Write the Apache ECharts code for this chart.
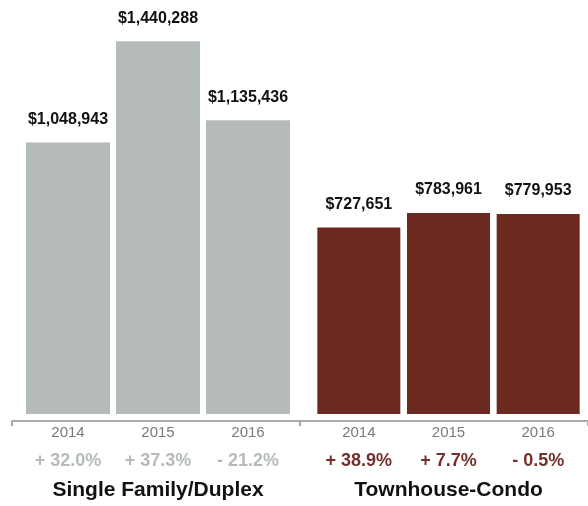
<!DOCTYPE html>
<html><head><meta charset="utf-8">
<script src="https://cdn.jsdelivr.net/npm/echarts@6/dist/echarts.min.js"></script>
<style>html,body{margin:0;padding:0;background:#fff}#c{width:588px;height:506px}</style>
</head><body><div id="c"></div>
<script>
const years = ['2014', '2015', '2016'];
const groupNames = ['Single Family/Duplex', 'Townhouse-Condo'];
const singleFamily = [1048943, 1440288, 1135436];
const townhouse = [727651, 783961, 779953];
const singleFamilyChange = ['+ 32.0%', '+ 37.3%', '- 21.2%'];
const townhouseChange = ['+ 38.9%', '+ 7.7%', '- 0.5%'];

const GRAY = '#b5bbbb';
const RED = '#6b2920';
const FONT = '"Liberation Sans", Arial, Helvetica, sans-serif';

function money(v) { return '$' + v.toLocaleString('en-US'); }

function catAxis(grid, changes, pctColor, name) {
  return {
    type: 'category', gridIndex: grid, data: years,
    axisLine: { show: false }, axisTick: { show: false },
    axisLabel: {
      margin: 10,
      formatter: (v, i) => '{y|' + v + '}\n{p|' + changes[i] + '}',
      rich: {
        y: { fontFamily: FONT, fontSize: 15, color: '#7a7a7a', lineHeight: 18 },
        p: { fontFamily: FONT, fontSize: 18, fontWeight: 'bold', color: pctColor, lineHeight: 38 }
      }
    },
    name: name, nameLocation: 'middle', nameGap: 66,
    nameTextStyle: { fontFamily: FONT, fontSize: 21, fontWeight: 'bold', color: '#111' }
  };
}

const chart = echarts.init(document.getElementById('c'));
chart.setOption({
  animation: false,
  grid: [
    { left: 23, width: 270, top: 0, bottom: 88 },
    { left: 314, width: 269, top: 0, bottom: 88 },
    { left: 12, right: 0, top: 420, height: 1 }
  ],
  xAxis: [
    catAxis(0, singleFamilyChange, '#b5bbbb', groupNames[0]),
    catAxis(1, townhouseChange, '#74302a', groupNames[1]),
    {
      type: 'category', gridIndex: 2, data: groupNames,
      axisLine: { lineStyle: { color: '#aaaaaa', width: 2 } },
      axisTick: { show: true, length: 5, lineStyle: { color: '#aaaaaa', width: 2 } },
      axisLabel: { show: false }
    }
  ],
  yAxis: [
    { type: 'value', gridIndex: 0, min: 0, max: 1600000, show: false },
    { type: 'value', gridIndex: 1, min: 0, max: 1615000, show: false },
    { type: 'value', gridIndex: 2, show: false }
  ],
  series: [
    {
      type: 'bar', xAxisIndex: 0, yAxisIndex: 0, data: singleFamily,
      barWidth: 84, itemStyle: { color: GRAY },
      label: { show: true, position: 'top', distance: 15, formatter: p => money(p.value),
        fontFamily: FONT, fontSize: 16, fontWeight: 'bold', color: '#111' }
    },
    {
      type: 'bar', xAxisIndex: 1, yAxisIndex: 1, data: townhouse,
      barWidth: 83, itemStyle: { color: RED },
      label: { show: true, position: 'top', distance: 15, formatter: p => money(p.value),
        fontFamily: FONT, fontSize: 16, fontWeight: 'bold', color: '#111' }
    }
  ]
});
</script></body></html>
